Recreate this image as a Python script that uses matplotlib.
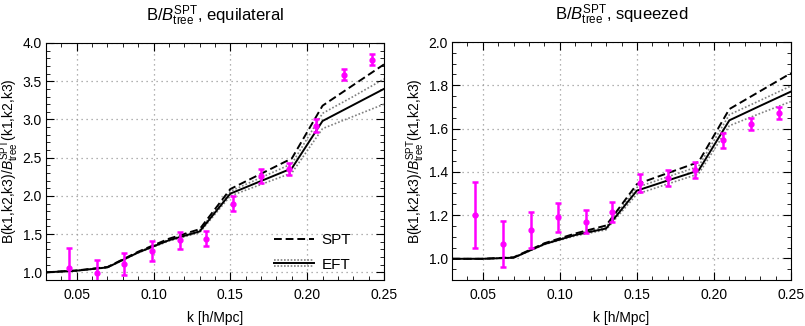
import matplotlib
matplotlib.use("Agg")
import matplotlib.pyplot as plt
from matplotlib.legend_handler import HandlerBase
from matplotlib.lines import Line2D
from matplotlib.ticker import MultipleLocator

plt.rcParams["font.family"] = ["Liberation Sans", "DejaVu Sans"]
plt.rcParams["mathtext.fontset"] = "custom"
plt.rcParams["mathtext.rm"] = "Liberation Sans"
plt.rcParams["mathtext.it"] = "Liberation Sans:italic"

# theory curves sampled every 0.02 h/Mpc
k_th = [0.03, 0.05, 0.07, 0.09, 0.11, 0.13, 0.15, 0.17, 0.19, 0.21, 0.23, 0.25]

# equilateral
eq_spt = [1.00, 1.025, 1.07, 1.27, 1.44, 1.565, 2.09, 2.29, 2.49, 3.18, 3.45, 3.72]
eq_eft = [1.00, 1.022, 1.065, 1.26, 1.42, 1.535, 2.03, 2.195, 2.36, 2.98, 3.19, 3.40]
eq_eft_hi = [1.00, 1.024, 1.068, 1.265, 1.43, 1.55, 2.06, 2.24, 2.42, 3.08, 3.30, 3.53]
eq_eft_lo = [1.00, 1.020, 1.062, 1.255, 1.41, 1.52, 2.00, 2.15, 2.30, 2.88, 3.04, 3.20]

# squeezed
sq_spt = [0.998, 0.998, 1.005, 1.07, 1.115, 1.152, 1.343, 1.394, 1.445, 1.69, 1.773, 1.856]
sq_eft = [0.998, 0.998, 1.003, 1.066, 1.108, 1.138, 1.313, 1.36, 1.406, 1.638, 1.705, 1.771]
sq_eft_hi = [0.998, 0.998, 1.004, 1.068, 1.112, 1.145, 1.328, 1.377, 1.425, 1.664, 1.73, 1.797]
sq_eft_lo = [0.998, 0.998, 1.002, 1.064, 1.104, 1.132, 1.297, 1.344, 1.39, 1.613, 1.67, 1.725]

# simulation measurements
k_sim = [0.045, 0.063, 0.081, 0.099, 0.117, 0.134, 0.152, 0.170, 0.188, 0.206, 0.224, 0.242]
eq_sim = [1.06, 0.995, 1.105, 1.28, 1.42, 1.44, 1.90, 2.26, 2.35, 2.92, 3.585, 3.78]
eq_err = [0.26, 0.17, 0.145, 0.13, 0.11, 0.10, 0.10, 0.09, 0.08, 0.09, 0.075, 0.07]
sq_sim = [1.20, 1.067, 1.13, 1.19, 1.17, 1.214, 1.348, 1.372, 1.408, 1.545, 1.621, 1.672]
sq_err = [0.153, 0.105, 0.083, 0.066, 0.055, 0.048, 0.043, 0.037, 0.036, 0.033, 0.03, 0.028]

YLABEL = r"B(k1,k2,k3)/$\it{B}^{\rm SPT}_{\rm tree}$(k1,k2,k3)"


class EFTHandler(HandlerBase):
    """Solid black line with dotted grey band lines above and below."""

    def create_artists(self, legend, orig_handle, xdescent, ydescent,
                       width, height, fontsize, trans):
        y = height / 2 - ydescent
        off = 2.2
        arts = [
            Line2D([-xdescent, width - xdescent], [y, y], color="black", lw=1.4),
            Line2D([-xdescent, width - xdescent], [y + off, y + off],
                   color="grey", lw=1.2, ls=(0, (1, 1))),
            Line2D([-xdescent, width - xdescent], [y - off, y - off],
                   color="grey", lw=1.2, ls=(0, (1, 1))),
        ]
        for a in arts:
            a.set_transform(trans)
        return arts


def panel(ax, spt, eft, hi, lo, sim, err, ylim, ymajor, yminor, title):
    ax.plot(k_th, hi, color="grey", lw=1.2, ls=(0, (1, 1.2)))
    ax.plot(k_th, lo, color="grey", lw=1.2, ls=(0, (1, 1.2)))
    ax.plot(k_th, eft, color="black", lw=1.4)
    ax.plot(k_th, spt, color="black", lw=1.4, ls=(0, (4, 2)))
    ax.errorbar(k_sim, sim, yerr=err, fmt="o", color="magenta", ms=3.5,
                elinewidth=1.8, capsize=2.5, capthick=1.8, zorder=5)
    ax.set_xlim(0.03, 0.25)
    ax.set_ylim(*ylim)
    ax.xaxis.set_major_locator(MultipleLocator(0.05))
    ax.xaxis.set_minor_locator(MultipleLocator(0.01))
    ax.yaxis.set_major_locator(MultipleLocator(ymajor))
    ax.yaxis.set_minor_locator(MultipleLocator(yminor))
    ax.tick_params(which="both", direction="in", top=True, right=True, labelsize=10)
    ax.tick_params(which="major", length=6)
    ax.tick_params(which="minor", length=3)
    ax.tick_params(axis="x", pad=6)
    ax.tick_params(axis="y", pad=3)
    ax.grid(True, which="major", color="#999999", ls=(0, (1, 3)), lw=0.9)
    ax.set_xlabel("k [h/Mpc]", fontsize=10, labelpad=6)
    ax.set_ylabel(YLABEL, fontsize=10, labelpad=1)
    ax.set_title(title, fontsize=12, pad=16)
    ax.yaxis.set_major_formatter(plt.FormatStrFormatter("%.1f"))
    ax.xaxis.set_major_formatter(plt.FormatStrFormatter("%.2f"))


fig = plt.figure(figsize=(8.05, 3.26), dpi=100)
ax1 = fig.add_axes([46 / 805, 46 / 326, 338 / 805, 237 / 326])
ax2 = fig.add_axes([452 / 805, 46 / 326, 339 / 805, 238 / 326])

panel(ax1, eq_spt, eq_eft, eq_eft_hi, eq_eft_lo, eq_sim, eq_err,
      (0.9, 4.0), 0.5, 0.1, r"B/$\it{B}^{\rm SPT}_{\rm tree}$, equilateral")
panel(ax2, sq_spt, sq_eft, sq_eft_hi, sq_eft_lo, sq_sim, sq_err,
      (0.9, 2.0), 0.2, 0.05, r"B/$\it{B}^{\rm SPT}_{\rm tree}$, squeezed")

spt_handle = Line2D([], [], color="black", lw=1.4, ls=(0, (4, 2)))
eft_handle = object()
ax1.legend([spt_handle, eft_handle], ["SPT", "EFT"],
           handler_map={object: EFTHandler()},
           loc="lower right", frameon=False, fontsize=11,
           handlelength=2.6, handletextpad=0.5, labelspacing=0.7,
           borderaxespad=0.3, bbox_to_anchor=(0.935, -0.01))

fig.savefig("out.png", dpi=100)
